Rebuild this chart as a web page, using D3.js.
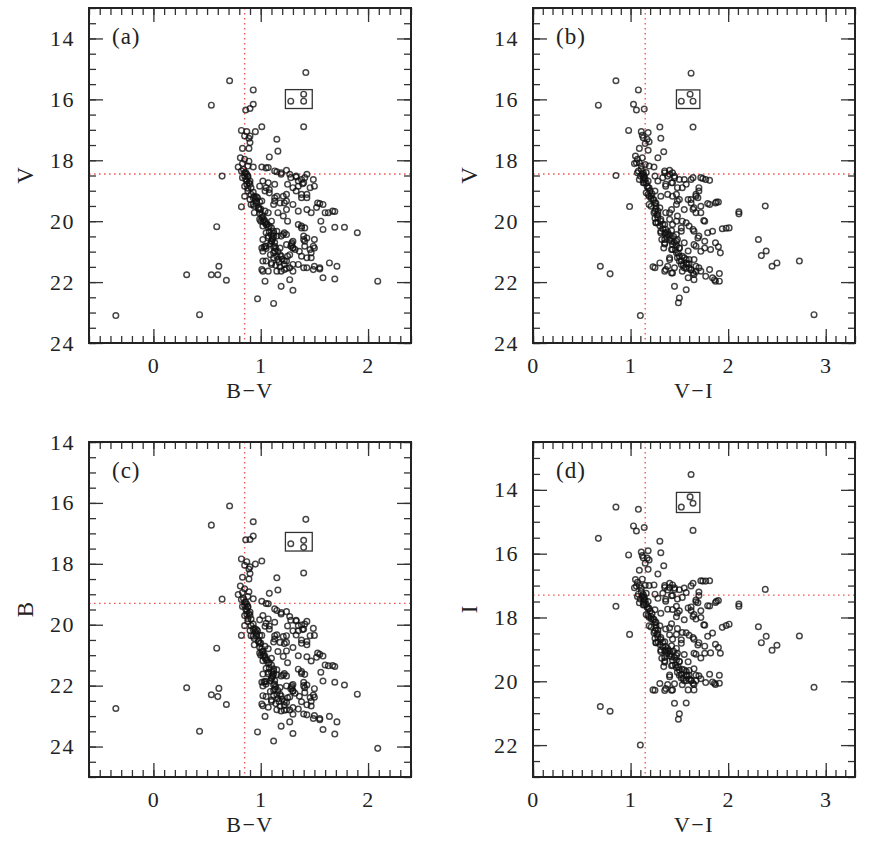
<!DOCTYPE html>
<html>
<head>
<meta charset="utf-8">
<script src="https://d3js.org/d3.v7.min.js"></script>
<style>
  body { margin: 0; background: #fff; }
  text { font-family: "Liberation Serif", "Times New Roman", serif; fill: #222; }
</style>
</head>
<body>
<script>
// Stars (a) and (b): [colour index, V]
const starsBV = [
  [-0.35,23.10],[0.43,23.07],[0.31,21.76],[0.54,21.76],[0.60,21.76],[0.61,21.48],[0.68,21.94],
  [0.59,20.18],[0.64,18.52],[0.54,16.19],[0.71,15.39],[0.93,15.69],[0.93,16.16],[0.86,16.35],
  [0.90,16.30],[1.42,15.12],[1.28,16.06],[1.40,15.83],[1.40,16.06],[1.40,16.90],[1.01,16.90],
  [1.90,20.38],[2.09,21.97],[1.78,20.20],[1.69,20.20],[1.69,19.68],[1.71,21.48],[1.69,21.90],
  [1.12,22.70],[0.97,22.55],[1.04,21.97],[1.19,22.14],[1.30,22.27],[1.27,21.92],[1.58,21.86],
  [1.55,21.57],[1.64,21.37],
  [0.82,17.02],[0.87,17.06],[0.95,17.06],[0.90,17.20],[0.85,17.20],[0.89,17.28],[0.90,17.42],
  [1.15,17.31],[0.83,17.61],[0.89,17.61],[1.16,17.70],[1.08,17.89],[0.81,17.92],[0.85,17.97],
  [0.89,18.03],[0.83,18.11],[0.88,18.19],[0.79,18.22],[0.93,18.22],[1.01,18.22],[1.07,18.24],
  [0.84,18.30],[0.82,18.35],[0.86,18.40],[0.87,18.46],[0.85,18.52],[0.88,18.55],[0.83,18.57],
  [0.86,18.62],[0.87,18.68],[0.89,18.74],[0.90,18.79],[0.85,18.85],[0.88,18.92],
  [1.15,18.38],[1.24,18.33],[1.19,18.46],[1.28,18.57],[1.33,18.52],[1.41,18.57],[1.49,18.63],
  [1.35,18.68],[1.07,18.74],[1.13,18.79],[1.05,18.90],[1.25,18.79],[1.30,18.90],[1.39,18.77],
  [1.50,18.85],[1.46,18.90],[1.33,19.01],
  [0.91,19.12],[0.94,19.18],[0.97,19.23],[0.90,19.29],[1.01,19.34],[0.93,19.05],[0.95,19.28],
  [0.96,19.20],[0.99,19.36],[0.93,19.45],[0.98,19.55],[1.00,19.60],[0.99,19.75],[1.02,19.85],
  [1.03,19.95],[1.04,20.05],[1.00,20.00],[1.06,20.10],[1.07,20.20],[1.08,20.35],[1.10,20.45],
  [1.12,20.50],[1.11,20.60],[1.13,20.70],[1.09,20.75],[1.12,20.85],[1.14,20.90],[1.16,21.00],
  [1.18,21.10],[1.12,21.20],[1.20,21.25],[1.17,21.35],[1.22,21.30],[1.24,21.55],[1.03,20.85],
  [1.05,20.90],[1.02,20.60],
  [1.08,19.07],[1.15,19.18],[1.24,19.12],[1.38,19.12],[1.43,19.23],[1.53,19.40],[1.58,19.45],
  [0.82,19.53],[0.94,19.51],[1.22,19.40],[1.13,19.34],[0.96,19.40],
  [0.99,19.62],[1.04,19.67],[1.07,19.72],[1.01,19.89],[1.16,19.72],[1.24,19.62],[1.43,19.62],
  [1.47,19.72],[1.60,19.72],[1.67,19.67],[1.02,20.00],[1.10,20.00],[1.21,19.83],[1.25,20.00],
  [1.56,20.00],[1.05,20.11],[1.10,20.22],[1.15,20.33],[1.22,20.38],[1.35,20.11],[1.41,20.22],
  [1.07,20.49],[1.19,20.49],[1.24,20.44],[1.30,20.66],[1.43,20.55],[1.50,20.60],[1.58,20.27],
  [1.01,20.88],[1.05,20.82],[1.10,20.66],[1.11,20.55],[1.13,20.98],[1.29,20.77],[1.32,20.93],
  [1.41,20.82],[1.46,20.93],[1.50,20.88],[1.15,21.15],[1.25,21.15],[1.38,21.15],[1.47,21.04],
  [1.02,21.31],[1.10,21.37],[1.16,21.26],[1.22,21.42],[1.27,21.53],[1.35,21.42],[1.43,21.53],
  [1.49,21.59],[1.55,21.53],[1.01,21.59],[1.07,21.64],[1.19,21.64],[1.30,21.64],
  [1.55,19.42],[1.52,19.55],[1.63,19.72],[1.38,20.16],[1.40,20.60],[1.49,20.82],[1.47,21.20],
  [1.50,21.48],[1.28,20.82],[1.30,20.88],[1.12,20.40],[1.14,21.45],[1.18,21.50],[1.09,21.10],
  [0.85,18.41],[0.88,18.52],[0.90,18.68],[0.87,18.79],[0.91,18.90],[0.88,19.01],[0.85,19.18],
  [1.05,18.25],[1.13,18.35],[1.19,18.41],[1.27,18.46],[1.33,18.55],[1.38,18.63],[1.40,18.74],
  [1.35,18.85],[1.43,18.46],[1.02,18.68],[0.99,18.85],[1.04,19.01],[1.08,18.96],[1.13,19.23],
  [1.21,19.18],[1.12,19.45],[1.18,19.40],[1.24,19.34],[1.30,19.45],[1.38,19.23],[1.43,19.12],
  [1.35,19.67],[0.93,19.23],[0.96,19.34],[0.91,19.45],[0.98,19.58],[0.94,19.72],[1.01,19.78],
  [0.99,19.94],[1.04,20.00],[1.02,20.16],[1.08,20.16],[1.12,20.33],[1.05,20.38],[1.07,20.55],
  [1.10,20.66],[1.15,20.49],[1.21,20.44],[1.13,20.82],[1.18,20.88],[1.24,20.77],[1.29,20.71],
  [1.30,20.88],[1.27,21.10],[1.19,21.15],[1.24,21.31],[1.30,21.42],[1.12,21.04],[1.04,20.82],
  [1.02,20.99],[1.05,21.31],[1.10,21.42],[1.02,21.64],[1.15,21.64],[1.22,21.59],[1.38,20.22],
  [1.40,20.49],[1.41,20.66],[1.36,20.99],[1.43,21.20],[1.40,21.53]
];

const starsVI = [
  [0.67,16.19],[0.85,15.39],[0.69,21.48],[0.79,21.73],[0.85,18.50],[0.99,19.52],[1.08,15.69],
  [1.03,16.16],[1.06,16.35],[1.14,16.32],[1.62,15.14],[1.52,16.06],[1.61,15.83],[1.64,16.06],
  [1.64,16.91],[1.30,16.91],[1.10,23.10],[2.88,23.07],[2.73,21.31],[2.45,21.48],[2.50,21.37],
  [2.34,21.13],[2.39,20.98],[2.31,20.60],[2.38,19.50],[2.11,19.69],[2.11,19.76],[1.79,19.42],
  [1.88,19.37],[1.90,19.37],[1.94,20.25],[1.98,20.23],[2.01,20.22],[1.92,21.04],[1.90,20.84],
  [1.87,20.71],[1.91,21.72],[1.91,21.97],[1.86,21.92],[1.75,19.98],[1.50,22.52],[1.49,22.68],
  [1.23,21.50],[1.30,21.37],[1.45,22.14],[1.57,22.25],
  [0.98,17.02],[1.11,17.06],[1.18,17.09],[1.13,17.26],[1.17,17.31],[1.19,17.39],[1.31,17.28],
  [1.12,17.18],[1.15,17.45],
  [1.09,17.61],[1.18,17.67],[1.34,17.72],[1.28,17.92],[1.05,17.86],[1.07,17.97],[1.12,17.92],
  [1.04,18.11],[1.09,18.08],[1.15,18.14],[1.19,18.19],[1.24,18.22],[1.08,18.35],[1.13,18.41],
  [1.10,18.52],[1.14,18.57],[1.13,18.74],[1.18,18.68],[1.12,18.45],[1.14,18.50],[1.13,18.65],
  [1.15,18.62],[1.16,18.75],[1.17,18.85],[1.11,18.30],[1.16,18.40],
  [1.35,18.35],[1.40,18.33],[1.43,18.41],[1.38,18.52],[1.45,18.52],[1.33,18.57],[1.25,18.52],
  [1.28,18.68],[1.36,18.79],[1.43,18.74],[1.55,18.63],[1.64,18.57],[1.74,18.60],[1.81,18.66],
  [1.53,18.90],[1.70,18.90],[1.19,18.90],[1.25,19.01],[1.21,19.18],[1.18,19.12],[1.31,19.18],
  [1.38,19.12],[1.47,19.12],[1.67,19.12],[1.59,19.29],[1.69,19.23],[1.62,19.40],[1.48,19.34],
  [1.19,19.45],[1.26,19.51],[1.20,19.00],[1.22,19.10],[1.21,19.25],[1.24,19.30],[1.25,19.40],
  [1.28,19.67],[1.24,19.72],[1.36,19.72],[1.42,19.62],[1.55,19.62],[1.65,19.56],[1.72,19.72],
  [1.81,19.45],[1.87,19.40],[1.26,19.60],[1.27,19.80],[1.25,19.90],[1.28,19.89],[1.31,20.00],
  [1.26,20.05],[1.35,20.11],[1.40,19.94],[1.47,20.00],[1.57,20.05],[1.76,20.00],[1.28,20.05],
  [1.30,20.15],[1.33,20.25],[1.31,20.33],[1.36,20.38],[1.42,20.31],[1.47,20.44],[1.52,20.33],
  [1.64,20.27],[1.69,20.55],[1.79,20.38],[1.84,20.33],[1.35,20.40],[1.37,20.50],[1.38,20.35],
  [1.40,20.45],[1.41,20.55],[1.44,20.50],[1.35,20.60],[1.42,20.66],[1.48,20.60],[1.55,20.71],
  [1.65,20.77],[1.45,20.70],[1.47,20.80],[1.46,20.95],[1.32,20.60],[1.35,20.75],
  [1.34,20.88],[1.43,20.93],[1.50,20.88],[1.59,20.98],[1.76,20.88],[1.82,20.93],[1.49,21.05],
  [1.50,21.15],[1.40,21.20],[1.48,21.20],[1.57,21.26],[1.65,21.26],[1.52,21.30],[1.54,21.45],
  [1.38,21.48],[1.45,21.53],[1.52,21.42],[1.60,21.53],[1.70,21.53],[1.81,21.59],[1.57,21.55],
  [1.60,21.40],[1.62,21.60],[1.67,21.65],[1.35,21.64],[1.42,21.70],[1.53,21.64],[1.64,21.70],
  [1.77,21.81],[1.84,21.86],[1.59,21.86],[1.65,21.92],[1.87,21.97],[1.58,21.40],[1.55,21.20],
  [1.06,18.08],[1.11,18.19],[1.07,18.41],[1.13,18.52],[1.09,18.63],[1.14,18.74],[1.18,18.90],
  [1.16,19.07],[1.35,18.41],[1.40,18.46],[1.45,18.57],[1.50,18.63],[1.42,18.74],[1.36,18.85],
  [1.48,18.90],[1.57,18.79],[1.62,18.63],[1.72,18.57],[1.77,18.63],[1.19,19.18],[1.23,19.29],
  [1.26,19.40],[1.21,19.51],[1.30,19.56],[1.25,19.67],[1.28,19.78],[1.31,19.94],[1.26,20.05],
  [1.33,20.11],[1.36,20.27],[1.31,20.38],[1.38,20.44],[1.40,20.60],[1.35,20.71],[1.43,20.77],
  [1.47,20.66],[1.50,20.88],[1.42,20.93],[1.47,21.04],[1.53,21.15],[1.50,21.31],[1.57,21.37],
  [1.60,21.26],[1.55,21.53],[1.62,21.59],[1.67,21.48],[1.72,21.64],[1.65,21.75],[1.25,21.53],
  [1.36,21.59],[1.43,21.70],[1.40,21.26],[1.62,19.29],[1.67,19.18],[1.70,19.01],[1.64,19.61],
  [1.67,19.72],[1.72,19.51],[1.60,20.16],[1.65,20.33],[1.70,20.49],[1.67,20.82],[1.72,20.99],
  [1.76,20.66],[1.43,19.18],[1.50,19.29],[1.47,19.45],[1.40,19.72],[1.48,19.83],[1.53,20.00],
  [1.43,20.11],[1.52,20.22]
];

// tick labels
const ticksBV = [0, 1, 2];
const ticksVI = [0, 1, 2, 3];
const ticksV = [14, 16, 18, 20, 22, 24];
const ticksB = [14, 16, 18, 20, 22, 24];
const ticksI = [14, 16, 18, 20, 22];

// dotted reference lines [colour, magnitude]
const refA = [0.85, 18.45];
const refB = [1.15, 18.45];
const refC = [0.85, 19.3];
const refD = [1.15, 17.3];

// boxes around the three bright stars [x0, x1, y0, y1]
const boxA = [1.23, 1.48, 15.68, 16.30];
const boxB = [1.47, 1.71, 15.69, 16.30];
const boxC = [1.23, 1.48, 16.97, 17.58];
const boxD = [1.47, 1.71, 14.08, 14.71];

const W = 322, H = 335;

const panels = [
  { tag: "(a)", left: 89, top: 8, xd: [-0.6, 2.4], yd: [13, 24], xt: ticksBV, yt: ticksV,
    xl: "B\u2212V", yl: "V", ref: refA, box: boxA, pts: starsBV },
  { tag: "(b)", left: 533, top: 8, xd: [0, 3.3], yd: [13, 24], xt: ticksVI, yt: ticksV,
    xl: "V\u2212I", yl: "V", ref: refB, box: boxB, pts: starsVI },
  { tag: "(c)", left: 89, top: 442, xd: [-0.6, 2.4], yd: [14, 25], xt: ticksBV, yt: ticksB,
    xl: "B\u2212V", yl: "B", ref: refC, box: boxC, pts: starsBV.map(([bv, v]) => [bv, v + bv]) },
  { tag: "(d)", left: 533, top: 442, xd: [0, 3.3], yd: [12.5, 23], xt: ticksVI, yt: ticksI,
    xl: "V\u2212I", yl: "I", ref: refD, box: boxD, pts: starsVI.map(([vi, v]) => [vi, v - vi]) }
];

const svg = d3.select("body").append("svg")
  .attr("width", 872)
  .attr("height", 849);

function minorTicks(domain, step) {
  const a = Math.ceil(domain[0] / step - 1e-6), b = Math.floor(domain[1] / step + 1e-6);
  return d3.range(a, b + 1).map(i => +(i * step).toFixed(3));
}

panels.forEach(p => {
  const g = svg.append("g").attr("transform", `translate(${p.left},${p.top})`);
  const x = d3.scaleLinear().domain(p.xd).range([0, W]);
  const y = d3.scaleLinear().domain(p.yd).range([0, H]);

  // dotted reference lines
  g.append("line")
    .attr("x1", x(p.ref[0])).attr("x2", x(p.ref[0]))
    .attr("y1", 0).attr("y2", H)
    .attr("stroke", "#ee5a55").attr("stroke-width", 1.4)
    .attr("stroke-dasharray", "1.6,3.4");
  g.append("line")
    .attr("x1", 0).attr("x2", W)
    .attr("y1", y(p.ref[1])).attr("y2", y(p.ref[1]))
    .attr("stroke", "#ee5a55").attr("stroke-width", 1.4)
    .attr("stroke-dasharray", "1.6,3.4");

  // stars
  g.append("g").selectAll("circle")
    .data(p.pts)
    .enter()
    .append("circle")
    .attr("cx", d => x(d[0]))
    .attr("cy", d => y(d[1]))
    .attr("r", 2.8)
    .attr("fill", "none")
    .attr("stroke", "#111")
    .attr("stroke-opacity", 0.78)
    .attr("stroke-width", 1.45);

  // box
  g.append("rect")
    .attr("x", x(p.box[0])).attr("y", y(p.box[2]))
    .attr("width", x(p.box[1]) - x(p.box[0]))
    .attr("height", y(p.box[3]) - y(p.box[2]))
    .attr("fill", "none").attr("stroke", "#333").attr("stroke-width", 1.3);

  // major + minor ticks on all four sides, pointing inward
  const sides = [
    [d3.axisBottom(x), `translate(0,${H})`, p.xt, minorTicks(p.xd, 0.1), true],
    [d3.axisTop(x), "translate(0,0)", p.xt, minorTicks(p.xd, 0.1), false],
    [d3.axisLeft(y), "translate(0,0)", p.yt, minorTicks(p.yd, 0.5), true],
    [d3.axisRight(y), `translate(${W},0)`, p.yt, minorTicks(p.yd, 0.5), false]
  ];
  sides.forEach(([axis, tr, major, minor, labelled], i) => {
    const mg = g.append("g").attr("transform", tr)
      .call(axis.tickValues(minor).tickSize(-7).tickSizeOuter(0).tickFormat(""));
    mg.select(".domain").remove();
    mg.selectAll("line").attr("stroke", "#333").attr("stroke-width", 1.3);

    const Mg = g.append("g").attr("transform", tr)
      .call(axis.tickValues(major).tickSize(-14).tickSizeOuter(0)
        .tickPadding(i < 2 ? 14 : 14)
        .tickFormat(labelled ? d3.format("d") : ""));
    Mg.select(".domain").remove();
    Mg.selectAll("line").attr("stroke", "#333").attr("stroke-width", 1.3);
    Mg.selectAll("text")
      .attr("font-size", 22)
      .attr("letter-spacing", 1.5)
      .style("font-family", "'Liberation Serif', serif")
      .attr("fill", "#2a2a2a");
  });

  // frame
  g.append("rect")
    .attr("width", W).attr("height", H)
    .attr("fill", "none").attr("stroke", "#222").attr("stroke-width", 2);

  // panel tag and axis titles
  g.append("text").attr("x", 23).attr("y", 36)
    .attr("font-size", 23).attr("letter-spacing", 1).text(p.tag);
  g.append("text").attr("x", W / 2).attr("y", H + 55)
    .attr("text-anchor", "middle").attr("font-size", 22).attr("letter-spacing", 1.5)
    .text(p.xl);
  g.append("text")
    .attr("transform", `translate(${-56},${H / 2}) rotate(-90)`)
    .attr("text-anchor", "middle").attr("font-size", 23)
    .text(p.yl);
});
</script>
</body>
</html>
